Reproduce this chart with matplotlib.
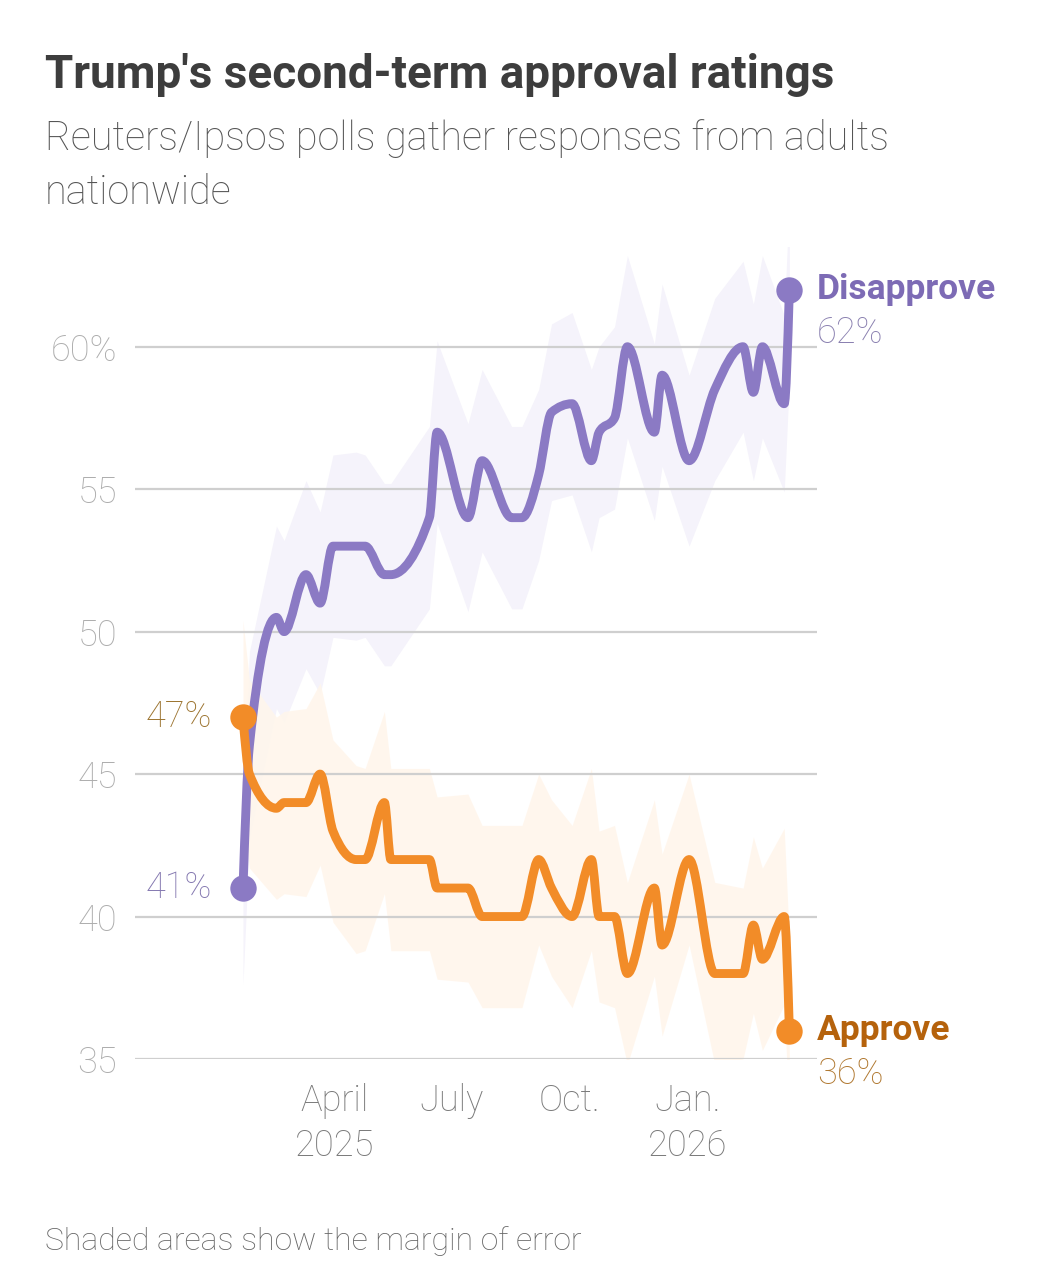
import matplotlib
matplotlib.use("Agg")
import matplotlib.pyplot as plt
import matplotlib.dates as mdates
from matplotlib.path import Path
from matplotlib.patches import PathPatch
import numpy as np
import pandas as pd

# ---- data ----
poll_dates = ["2025-01-20", "2025-01-25", "2025-02-15", "2025-02-21", "2025-03-10",
              "2025-03-21", "2025-03-31", "2025-04-18", "2025-04-25", "2025-05-10",
              "2025-05-15", "2025-06-14", "2025-06-20", "2025-07-14", "2025-07-25",
              "2025-08-17", "2025-08-25", "2025-09-07", "2025-09-17", "2025-10-03",
              "2025-10-18", "2025-10-24", "2025-11-05", "2025-11-15", "2025-12-06",
              "2025-12-12", "2026-01-02", "2026-01-22", "2026-02-13", "2026-02-21",
              "2026-02-28", "2026-03-17", "2026-03-21"]
approve = [47, 45, 43.8, 44, 44, 45, 43, 42, 42, 44, 42, 42, 41, 41, 40, 40, 40, 42, 41, 40,
           42, 40, 40, 38, 41, 39, 42, 38, 38, 39.7, 38.5, 40, 36]
disapprove = [41, 46, 50.5, 50, 52, 51, 53, 53, 53, 52, 52, 54, 57, 54, 56, 54, 54, 55.5, 57.7, 58,
              56, 57, 57.5, 60, 57, 59, 56, 58.5, 60, 58.4, 60, 58, 62]
margin = [3.4, 3.3, 3.2, 3.2, 3.3, 3.2, 3.2, 3.3, 3.2, 3.2, 3.2, 3.2, 3.2, 3.3, 3.2, 3.2, 3.2,
          3.0, 3.1, 3.2, 3.2, 3.0, 3.2, 3.2, 3.1, 3.2, 3.0, 3.2, 3.0, 3.1, 3.2, 3.1, 3.2]
y_ticks = [35, 40, 45, 50, 55, 60]
y_tick_labels = ["35", "40", "45", "50", "55", "60%"]
x_tick_dates = ["2025-04-01", "2025-07-01", "2025-10-01", "2026-01-01"]
x_tick_labels = ["April\n2025", "July", "Oct.", "Jan.\n2026"]

# ---- style ----
PURPLE = "#8b7ac4"
ORANGE = "#f28c28"
PURPLE_BAND = "#f5f3fb"
ORANGE_BAND = "#fff6ec"
GRID = "#cfcfcf"
FONT = "Roboto"

W, H = 1045, 1280
fig = plt.figure(figsize=(W / 100, H / 100), dpi=100)
fig.patch.set_facecolor("white")


def fx(px):
    return px / W


def fy(py):
    return 1 - py / H


def monotone_path(xs, ys):
    """Cubic Bezier path through the data points (monotone-x style tangents)."""
    xs = np.asarray(xs, float)
    ys = np.asarray(ys, float)
    n = len(xs)
    h = np.diff(xs)
    s = np.diff(ys) / h
    t = np.zeros(n)
    for i in range(1, n - 1):
        h0, h1, s0, s1 = h[i - 1], h[i], s[i - 1], s[i]
        p = (s0 * h1 + s1 * h0) / (h0 + h1)
        t[i] = (np.sign(s0) + np.sign(s1)) * min(abs(s0), abs(s1), 0.5 * abs(p))
    t[0] = (3 * s[0] - t[1]) / 2
    t[-1] = (3 * s[-1] - t[-2]) / 2
    verts = [(xs[0], ys[0])]
    codes = [Path.MOVETO]
    for i in range(n - 1):
        dx = h[i] / 3
        verts += [(xs[i] + dx, ys[i] + t[i] * dx),
                  (xs[i + 1] - dx, ys[i + 1] - t[i + 1] * dx),
                  (xs[i + 1], ys[i + 1])]
        codes += [Path.CURVE4] * 3
    return Path(verts, codes)


left, right, top, bottom = 135, 817, 247, 1059
ax = fig.add_axes([fx(left), fy(bottom), fx(right - left), (bottom - top) / H])

dates = pd.to_datetime(poll_dates)
x = mdates.date2num(dates)
a = np.array(approve, float)
d = np.array(disapprove, float)
m = np.array(margin, float)

ax.fill_between(x, d - m, d + m, color=PURPLE_BAND, lw=0, zorder=1)
ax.fill_between(x, a - m, a + m, color=ORANGE_BAND, lw=0, zorder=1, alpha=0.9)

for yt in y_ticks:
    ax.axhline(yt, color=GRID, lw=1.6, zorder=2)

for arr, col, z in ((d, PURPLE, 4), (a, ORANGE, 5)):
    patch = PathPatch(monotone_path(x, arr), facecolor="none", edgecolor=col, lw=6.4,
                      capstyle="round", joinstyle="round", zorder=z)
    ax.add_patch(patch)

for arr, col in ((d, PURPLE), (a, ORANGE)):
    ax.plot([x[0], x[-1]], [arr[0], arr[-1]], "o", color=col, ms=19, mew=0, zorder=6)

x0 = mdates.date2num(pd.Timestamp("2025-01-20"))
ax.set_xlim(x0 - 84, x0 + 446.5)
ax.set_ylim(35, 63.5)

ax.set_yticks(y_ticks)
ax.set_yticklabels(y_tick_labels)
ax.set_xticks(mdates.date2num(pd.to_datetime(x_tick_dates)))
ax.set_xticklabels(x_tick_labels, linespacing=1.35)
ax.tick_params(axis="both", length=0)
ax.tick_params(axis="y", pad=13, labelsize=26, labelcolor="#adadad")
ax.tick_params(axis="x", pad=17, labelsize=26, labelcolor="#7a7a7a")
for lab in ax.get_yticklabels() + ax.get_xticklabels():
    lab.set_fontfamily(FONT)
    lab.set_fontweight("light")
for s in ax.spines.values():
    s.set_visible(False)
ax.set_facecolor("none")

# end labels
ax.annotate("Disapprove", xy=(x[-1], d[-1]), xytext=(20, 0), textcoords="offset points",
            va="center", ha="left", fontsize=25.5, fontweight="bold", color="#7d6bb5", family=FONT)
ax.annotate("62%", xy=(x[-1], d[-1]), xytext=(20, -31), textcoords="offset points",
            va="center", ha="left", fontsize=26, fontweight="light", color="#8a80b0", family=FONT)
ax.annotate("Approve", xy=(x[-1], a[-1]), xytext=(20, 0), textcoords="offset points",
            va="center", ha="left", fontsize=25.5, fontweight="bold", color="#b5620c", family=FONT)
ax.annotate("36%", xy=(x[-1], a[-1]), xytext=(20, -31), textcoords="offset points",
            va="center", ha="left", fontsize=26, fontweight="light", color="#b07830", family=FONT)
ax.annotate("47%", xy=(x[0], a[0]), xytext=(-22, 0), textcoords="offset points",
            va="center", ha="right", fontsize=26, fontweight="light", color="#9c7430", family=FONT)
ax.annotate("41%", xy=(x[0], d[0]), xytext=(-22, 0), textcoords="offset points",
            va="center", ha="right", fontsize=26, fontweight="light", color="#8478b0", family=FONT)

# titles
fig.text(fx(45), fy(88), "Trump's second-term approval ratings", fontsize=33, fontweight="bold",
         color="#3d3d3d", family=FONT, va="baseline", ha="left")
fig.text(fx(45), fy(150), "Reuters/Ipsos polls gather responses from adults", fontsize=28.5,
         fontweight="light", color="#555555", family=FONT, va="baseline", ha="left")
fig.text(fx(45), fy(204), "nationwide", fontsize=28.5,
         fontweight="light", color="#555555", family=FONT, va="baseline", ha="left")
fig.text(fx(45), fy(1250), "Shaded areas show the margin of error", fontsize=23,
         fontweight="light", color="#666666", family=FONT, va="baseline", ha="left")

fig.savefig("out.png", dpi=100, facecolor="white")
